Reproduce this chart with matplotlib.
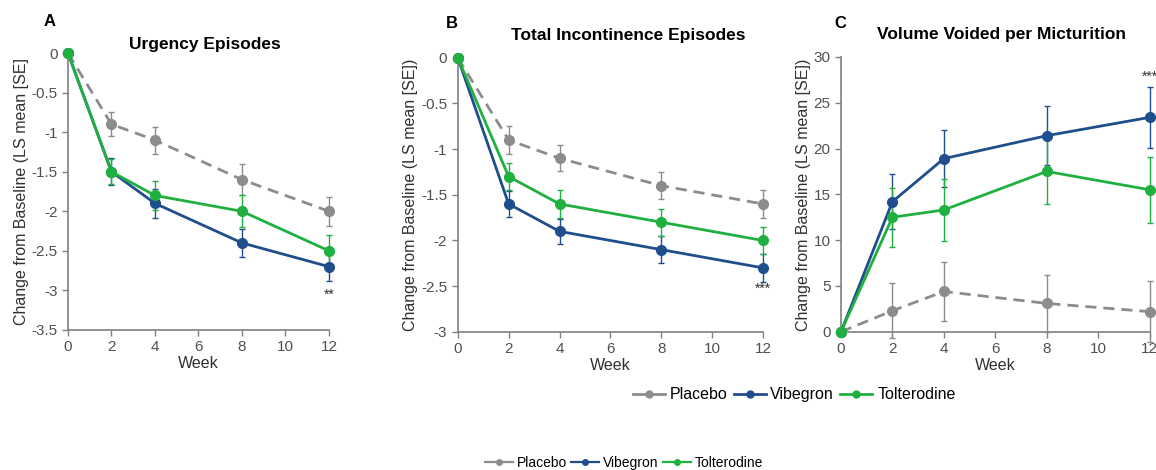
import numpy as np
import matplotlib.pyplot as plt
from matplotlib.lines import Line2D

plt.rcParams['font.family'] = ['Liberation Sans', 'DejaVu Sans']

weeks = [0, 2, 4, 8, 12]
series_names = ["Placebo", "Vibegron", "Tolterodine"]
colors = ['#8c8c8c', '#1f4e8c', '#1fb040']

# Panel A: urgency episodes
urg_placebo = [0, -0.9, -1.1, -1.6, -2.0]
urg_placebo_se = [0, 0.15, 0.17, 0.2, 0.18]
urg_vibegron = [0, -1.5, -1.9, -2.4, -2.7]
urg_vibegron_se = [0, 0.17, 0.18, 0.18, 0.18]
urg_tolterodine = [0, -1.5, -1.8, -2.0, -2.5]
urg_tolterodine_se = [0, 0.16, 0.18, 0.2, 0.2]

# Panel B: total incontinence episodes
inc_placebo = [0, -0.9, -1.1, -1.4, -1.6]
inc_placebo_se = [0, 0.15, 0.14, 0.15, 0.15]
inc_vibegron = [0, -1.6, -1.9, -2.1, -2.3]
inc_vibegron_se = [0, 0.14, 0.14, 0.15, 0.15]
inc_tolterodine = [0, -1.3, -1.6, -1.8, -2.0]
inc_tolterodine_se = [0, 0.15, 0.15, 0.15, 0.15]

# Panel C: volume voided per micturition
vol_placebo = [0, 2.3, 4.4, 3.1, 2.2]
vol_placebo_se = [0, 3.0, 3.2, 3.1, 3.3]
vol_vibegron = [0, 14.2, 18.9, 21.4, 23.4]
vol_vibegron_se = [0, 3.0, 3.1, 3.2, 3.3]
vol_tolterodine = [0, 12.5, 13.3, 17.5, 15.5]
vol_tolterodine_se = [0, 3.2, 3.4, 3.5, 3.6]

axis_color = '#808080'
tick_fs = 11
label_fs = 11.5
title_fs = 12.5


def draw_panel(ax, data, ylim, yticks, title, title_x, title_pad, ylabel, stars, star_y):
    for (vals, se), name, col in zip(data, series_names, colors):
        ls = (0, (4, 2.5)) if name == "Placebo" else '-'
        lines = ax.errorbar(weeks, vals, yerr=se, color=col, linestyle=ls, linewidth=2.0,
                            marker='o', markersize=7, elinewidth=1.0, capsize=2.5,
                            label=name, zorder=3)
        for artist in lines.get_children():
            artist.set_clip_on(False)
    ax.set_xlim(0, 12)
    ax.set_ylim(*ylim)
    ax.set_xticks(range(0, 13, 2))
    ax.set_yticks(yticks)
    ax.set_yticklabels([f"{t:g}" for t in yticks])
    for s in ['top', 'right']:
        ax.spines[s].set_visible(False)
    for s in ['left', 'bottom']:
        ax.spines[s].set_color(axis_color)
        ax.spines[s].set_linewidth(1.2)
        ax.spines[s].set_zorder(1)
    ax.tick_params(labelcolor='#505050', labelsize=tick_fs, length=4, width=1.0,
                   color=axis_color)
    ax.set_xlabel("Week", fontsize=label_fs, color='#303030', labelpad=1)
    ax.set_ylabel(ylabel, fontsize=label_fs, color='#303030', labelpad=2)
    ax.set_title(title, fontsize=title_fs, fontweight='bold', pad=title_pad, x=title_x)
    ax.text(12, star_y, stars, fontsize=10, ha='center', va='center', color='#303030')


fig = plt.figure(figsize=(11.56, 4.70), dpi=100)
axA = fig.add_axes([0.0588, 0.298, 0.2258, 0.589])
axB = fig.add_axes([0.396, 0.294, 0.264, 0.583])
axC = fig.add_axes([0.7275, 0.294, 0.267, 0.585])

draw_panel(axA,
           [(urg_placebo, urg_placebo_se), (urg_vibegron, urg_vibegron_se),
            (urg_tolterodine, urg_tolterodine_se)],
           (-3.5, 0), np.arange(-3.5, 0.01, 0.5), "Urgency Episodes", 0.525, 3,
           "Change from Baseline (LS mean [SE]", "**", -3.05)
draw_panel(axB,
           [(inc_placebo, inc_placebo_se), (inc_vibegron, inc_vibegron_se),
            (inc_tolterodine, inc_tolterodine_se)],
           (-3, 0), np.arange(-3, 0.01, 0.5), "Total Incontinence Episodes", 0.56, 13,
           "Change from Baseline (LS mean [SE])", "***", -2.53)
draw_panel(axC,
           [(vol_placebo, vol_placebo_se), (vol_vibegron, vol_vibegron_se),
            (vol_tolterodine, vol_tolterodine_se)],
           (0, 30), np.arange(0, 31, 5), "Volume Voided per Micturition", 0.52, 13,
           "Change from Baseline (LS mean [SE])", "***", 27.8)

# panel letters
fig.text(50 / 1156, 1 - 22 / 470, "A", fontsize=12, fontweight='bold', ha='center', va='center')
fig.text(452 / 1156, 1 - 24 / 470, "B", fontsize=12, fontweight='bold', ha='center', va='center')
fig.text(840 / 1156, 1 - 24 / 470, "C", fontsize=12, fontweight='bold', ha='center', va='center')

handles = [Line2D([], [], color=c, linestyle='-', linewidth=2.0, marker='o', markersize=5)
           for c in colors]
fig.legend(handles, series_names, loc='center', bbox_to_anchor=(0.687, 0.16), ncol=3,
           frameon=False, fontsize=11.5, handlelength=2.0, handletextpad=0.3,
           columnspacing=0.4)
handles2 = [Line2D([], [], color=c, linestyle='-', linewidth=1.6, marker='o', markersize=4)
            for c in colors]
fig.legend(handles2, series_names, loc='center', bbox_to_anchor=(0.54, 0.015), ncol=3,
           frameon=False, fontsize=10, handlelength=2.0, handletextpad=0.3,
           columnspacing=0.3)

plt.savefig("out.png", dpi=100)
